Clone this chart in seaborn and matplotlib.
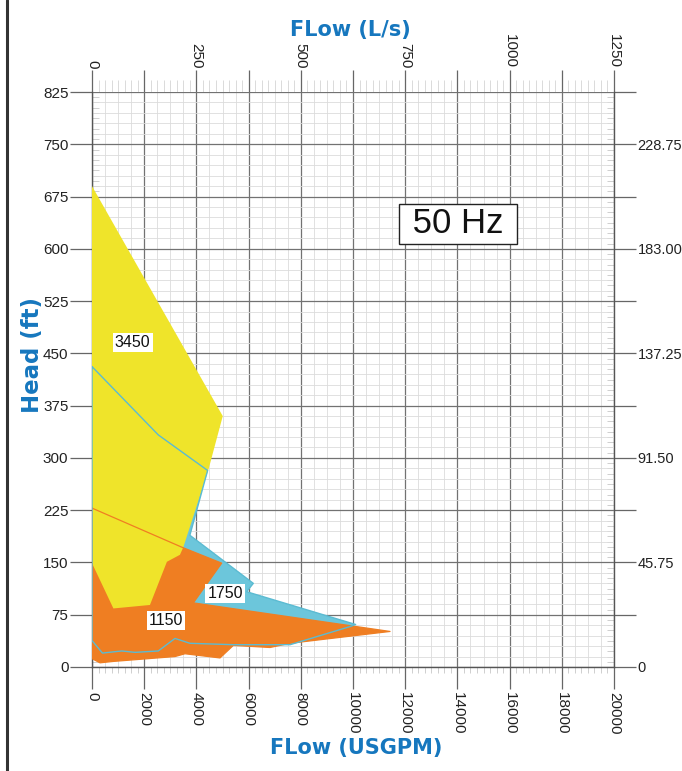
import numpy as np
import pandas as pd
import matplotlib
matplotlib.use("Agg")
import matplotlib.pyplot as plt
import seaborn as sns
from matplotlib.ticker import MultipleLocator, FixedLocator, FixedFormatter, NullFormatter
from matplotlib.lines import Line2D

# ---------------- data (flow in USGPM, head in ft) ----------------
flow_3450 = [0, 5010, 4460, 3500, 3370, 2870, 2220, 820, 0]
head_3450 = [690, 360, 283, 172, 161, 151, 89, 84, 149]

flow_1750 = [0, 2540, 4430, 3750, 6180, 5925, 10100, 9885, 7590, 5415, 3755,
             3180, 2540, 1650, 1140, 400, 0]
head_1750 = [431, 333, 282, 189, 120, 108, 61, 58, 32, 32, 34,
             41, 23, 21, 23, 20, 38]

flow_1150 = [0, 3436, 4968, 3882, 11418, 7586, 6820, 5415, 4904, 3563, 3180,
             817, 306, 0]
head_1150 = [228, 172, 149, 92, 51, 34, 28, 31, 13, 19, 15,
             8, 6, 12]

speed_labels = ["3450", "1750", "1150"]
label_flow = [1560, 5096, 2835]
label_head = [465, 105, 67]

bottom_ticks = list(range(0, 20001, 2000))
left_ticks = list(range(0, 826, 75))
top_ticks = [0, 250, 500, 750, 1000, 1250]
right_ticks = [0, 45.75, 91.50, 137.25, 183.00, 228.75]
right_tick_labels = ["0", "45.75", "91.50", "137.25", "183.00", "228.75"]

GPM_PER_LS = 16.0      # top axis 0..1250 spans 0..20000
M_PER_FT = 0.305       # right axis

# ---------------- styling ----------------
sns.set_theme(style="white")
plt.rcParams["font.family"] = ["Liberation Sans", "DejaVu Sans"]

c_yellow = "#EFE42A"
c_cyan = "#6CC6DB"
c_orange = "#EF7E22"
c_blue = "#1677BE"

pos = [92/682, 104/771, 522/682, 575/771]
fig = plt.figure(figsize=(6.82, 7.71), dpi=100)

# faint dense tick marks layer (behind)
axt = fig.add_axes(pos, frameon=False)
axt.set_xlim(0, 20000)
axt.set_ylim(0, 825)
axt.xaxis.set_major_locator(MultipleLocator(250))
axt.yaxis.set_major_locator(MultipleLocator(7.5))
axt.xaxis.set_major_formatter(NullFormatter())
axt.yaxis.set_major_formatter(NullFormatter())
axt.tick_params(axis="x", bottom=True, top=False, length=4, width=0.6,
                color="#c8c8c8", direction="out")
axt.tick_params(axis="y", left=True, right=True, length=5, width=0.6,
                color="#c8c8c8", direction="in")
axt.grid(False)

axt2 = fig.add_axes(pos, frameon=False)
axt2.set_xlim(0, 20000)
axt2.set_ylim(0, 825)
axt2.xaxis.set_major_locator(MultipleLocator(250))
axt2.xaxis.set_major_formatter(NullFormatter())
axt2.set_yticks([])
axt2.tick_params(axis="x", bottom=False, top=True, length=9, width=0.6,
                 color="#d4d4d4", direction="out")
axt2.grid(False)

ax = fig.add_axes(pos)
ax.patch.set_alpha(0)
ax.set_xlim(0, 20000)
ax.set_ylim(0, 825)

# grid
ax.xaxis.set_major_locator(FixedLocator(bottom_ticks))
ax.yaxis.set_major_locator(FixedLocator(left_ticks))
ax.xaxis.set_minor_locator(MultipleLocator(500))
ax.yaxis.set_minor_locator(MultipleLocator(15))
ax.grid(which="minor", color="#dcdcdc", lw=0.6, zorder=0)
ax.grid(which="major", color="#727272", lw=0.9, zorder=0.5)
ax.set_axisbelow(True)

# fills
ax.fill(flow_1750, head_1750, color=c_cyan, lw=0, zorder=2)
ax.fill(flow_1150, head_1150, color=c_orange, lw=0, zorder=3)
ax.fill(flow_3450, head_3450, color=c_yellow, lw=0, zorder=4)

# outlines drawn on top (seaborn lines)
def closed_df(fx, hy):
    return pd.DataFrame({"flow": list(fx) + [fx[0]], "head": list(hy) + [hy[0]],
                         "order": range(len(fx) + 1)})

d1150 = closed_df(flow_1150, head_1150)
sns.lineplot(data=d1150, x="flow", y="head", sort=False, estimator=None,
             color=c_orange, lw=0.9, ax=ax, zorder=5)
d1750 = closed_df(flow_1750, head_1750)
sns.lineplot(data=d1750, x="flow", y="head", sort=False, estimator=None,
             color="#5BBBD2", lw=1.0, ax=ax, zorder=6)

# speed labels
for s, fx, hy in zip(speed_labels, label_flow, label_head):
    ax.text(fx, hy, s, ha="center", va="center", fontsize=11.5, color="#111",
            zorder=8, bbox=dict(facecolor="white", edgecolor="none", pad=1.5))

ax.text(14023, 636, " 50 Hz ", ha="center", va="center", fontsize=25, color="#111",
        zorder=8, bbox=dict(facecolor="white", edgecolor="#222", lw=1.0,
                            boxstyle="square,pad=0.1"))

ax.set_xlabel("")
ax.set_ylabel("")

# spines
for sp in ["top", "right"]:
    ax.spines[sp].set_visible(False)
for sp in ["left", "bottom"]:
    ax.spines[sp].set_color("#555555")
    ax.spines[sp].set_linewidth(1.0)

# bottom / left ticks
ax.set_xticklabels([str(t) for t in bottom_ticks])
ax.tick_params(axis="x", which="major", bottom=True, length=16, width=0.9,
               color="#666666", pad=2, labelsize=11, labelcolor="#222222",
               labelrotation=-90)
for lab in ax.get_xticklabels():
    lab.set_va("top")
    lab.set_ha("center")
ax.tick_params(axis="y", which="major", left=True, length=16, width=0.9,
               color="#666666", pad=1, labelsize=11, labelcolor="#222222")
ax.tick_params(which="minor", bottom=False, left=False)

# top secondary axis (L/s)
sx = ax.secondary_xaxis("top", functions=(lambda x: x / GPM_PER_LS,
                                          lambda x: x * GPM_PER_LS))
sx.xaxis.set_major_locator(FixedLocator(top_ticks))
sx.xaxis.set_minor_locator(FixedLocator([125, 375, 625, 875, 1125]))
sx.set_xticklabels([str(t) for t in top_ticks])
sx.tick_params(axis="x", which="both", length=16, width=0.9, color="#666666",
               pad=1, labelsize=11, labelcolor="#222222", labelrotation=-90)
for lab in sx.get_xticklabels():
    lab.set_va("bottom")
    lab.set_ha("center")
sx.spines["top"].set_visible(False)

# right secondary axis (m)
sy = ax.secondary_yaxis("right", functions=(lambda y: y * M_PER_FT,
                                            lambda y: y / M_PER_FT))
sy.yaxis.set_major_locator(FixedLocator(right_ticks))
sy.yaxis.set_major_formatter(FixedFormatter(right_tick_labels))
sy.yaxis.set_minor_locator(FixedLocator([22.875, 68.625, 114.375, 160.125,
                                         205.875, 251.625]))
sy.tick_params(axis="y", which="both", length=16, width=0.9, color="#666666",
               pad=1, labelsize=10.5, labelcolor="#222222")
sy.spines["right"].set_color("#555555")
sy.spines["right"].set_linewidth(1.0)

# axis titles
fig.text(350/682, 1 - 30/771, "FLow (L/s)", ha="center", va="center",
         fontsize=15, fontweight="bold", color=c_blue, family="DejaVu Sans")
fig.text(356/682, 1 - 748/771, "FLow (USGPM)", ha="center", va="center",
         fontsize=15, fontweight="bold", color=c_blue, family="DejaVu Sans")
fig.text(33/682, 1 - 355/771, "Head (ft)", ha="center", va="center",
         rotation=90, fontsize=16.5, fontweight="bold", color=c_blue,
         family="DejaVu Sans")

# left frame line
fig.add_artist(Line2D([7/682, 7/682], [0, 1], transform=fig.transFigure,
                      color="#333333", lw=2.2))

fig.savefig("out.png", dpi=100)
